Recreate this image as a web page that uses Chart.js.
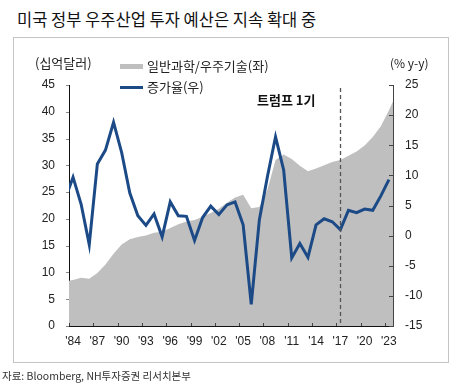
<!DOCTYPE html>
<html>
<head>
<meta charset="utf-8">
<script src="https://cdn.jsdelivr.net/npm/chart.js@4"></script>
<style>
  body { margin: 0; width: 457px; height: 391px; background: #fff; position: relative; overflow: hidden;
         font-family: 'Noto Sans CJK KR', 'Noto Sans', sans-serif; color: #111; }
  .t { position: absolute; white-space: nowrap; line-height: 1; }
  #frame { position: absolute; left: 13px; top: 37px; width: 434px; height: 324px; border: 1px solid #c4c4c4; }
  #chartBox { position: absolute; left: 0; top: 0; width: 457px; height: 391px; }
  .swatch { position: absolute; }
</style>
</head>
<body>
<div class="t" style="left:17px; top:11px; font-size:16.5px;">미국 정부 우주산업 투자 예산은 지속 확대 중</div>
<div id="frame"></div>
<div id="chartBox"><canvas id="spaceChart" width="457" height="391"></canvas></div>

<div class="t" style="left:35px; top:56px; font-size:13px; color:#222;">(십억달러)</div>
<div class="swatch" style="left:120px; top:64px; width:23px; height:5px; background:#bfbfbf;"></div>
<div class="t" style="left:147px; top:59px; font-size:13px; color:#222;">일반과학/우주기술(좌)</div>
<div class="swatch" style="left:120px; top:86px; width:23px; height:3px; background:#1b4a87;"></div>
<div class="t" style="left:147px; top:80px; font-size:13px; color:#222;">증가율(우)</div>
<div class="t" style="left:390px; top:57px; font-size:12px; color:#222;">(% y-y)</div>
<div class="t" style="left:257px; top:93px; font-size:13px; font-weight:bold; color:#111;">트럼프 1기</div>
<div class="t" style="left:2px; top:371px; font-size:10.5px; color:#333;">자료: Bloomberg, NH투자증권 리서치본부</div>

<script>
// jaren (1983 en 2024 vallen net buiten de as, alleen voor de randen)
const years = [1983, 1984, 1985, 1986, 1987, 1988, 1989, 1990, 1991, 1992, 1993, 1994, 1995, 1996,
  1997, 1998, 1999, 2000, 2001, 2002, 2003, 2004, 2005, 2006, 2007, 2008, 2009, 2010, 2011,
  2012, 2013, 2014, 2015, 2016, 2017, 2018, 2019, 2020, 2021, 2022, 2023, 2024];

// 일반과학/우주기술 (십억달러, linker as)
const budget = [8.3, 8.6, 9.0, 8.8, 9.9, 11.5, 13.5, 15.2, 16.2, 16.6, 16.9, 17.4, 17.6, 18.3,
  19.0, 19.5, 19.8, 20.4, 21.1, 21.9, 23.0, 24.0, 24.5, 22.0, 22.2, 25.5, 31.0, 32.0, 31.2,
  29.9, 28.9, 29.4, 30.0, 30.6, 31.0, 31.8, 32.6, 33.7, 35.3, 37.3, 40.3, 43.5];

// 증가율 (% y-y, rechter as)
const growth = [6.0, 9.7, 5.2, -1.5, 11.9, 14.2, 18.8, 13.8, 7.1, 3.3, 1.7, 3.6, -0.2, 5.6,
  3.3, 3.2, -0.8, 3.0, 4.9, 3.5, 5.1, 5.6, 1.8, -11.4, 2.6, 9.8, 16.4, 10.9, -3.7,
  -1.3, -3.6, 1.8, 2.8, 2.3, 1.0, 4.2, 3.8, 4.4, 4.2, 6.6, 9.3, null];

const tickYears = [1984, 1987, 1990, 1993, 1996, 1999, 2002, 2005, 2008, 2011, 2014, 2017, 2020, 2023];
const tickLabels = ["'84", "'87", "'90", "'93", "'96", "'99", "'02", "'05", "'08", "'11", "'14", "'17", "'20", "'23"];
const trumpStart = 2017;

const tickFont = { family: "'Liberation Sans', Arial, sans-serif", size: 12 };

// tickmarks + stippellijn zelf tekenen
const axisMarks = {
  id: 'axisMarks',
  afterDatasetsDraw(chart) {
    const { ctx, chartArea: a, scales } = chart;
    ctx.save();
    ctx.strokeStyle = '#555';
    ctx.lineWidth = 1.3;
    ctx.setLineDash([4, 3]);
    const xd = Math.round(scales.x.getPixelForValue(trumpStart)) + 0.5;
    ctx.beginPath();
    ctx.moveTo(xd, a.top + 3);
    ctx.lineTo(xd, a.bottom);
    ctx.stroke();
    ctx.restore();
  },
  afterDraw(chart) {
    const { ctx, chartArea: a, scales } = chart;
    ctx.save();
    ctx.lineWidth = 1;
    ctx.strokeStyle = '#888';
    const seg = (x1, y1, x2, y2) => { ctx.beginPath(); ctx.moveTo(x1, y1); ctx.lineTo(x2, y2); ctx.stroke(); };
    scales.y.ticks.forEach(t => {
      const y = Math.round(scales.y.getPixelForValue(t.value)) + 0.5;
      seg(a.left - 3, y, a.left, y);
    });
    ctx.strokeStyle = '#444';
    scales.y1.ticks.forEach(t => {
      const y = Math.round(scales.y1.getPixelForValue(t.value)) + 0.5;
      seg(a.right - 4, y, a.right, y);
    });
    scales.x.ticks.forEach(t => {
      const x = Math.round(scales.x.getPixelForValue(t.value)) + 0.5;
      seg(x, a.bottom, x, a.bottom - 3);
    });
    ctx.restore();
  }
};

const ctx = document.getElementById('spaceChart').getContext('2d');
new Chart(ctx, {
  type: 'line',
  data: {
    datasets: [
      {
        label: '증가율(우)',
        data: years.map((yr, i) => ({ x: yr, y: growth[i] })),
        yAxisID: 'y1',
        borderColor: '#1b4a87',
        borderWidth: 3,
        pointRadius: 0,
        tension: 0,
        fill: false,
        order: 0,
        clip: 0,
      },
      {
        label: '일반과학/우주기술(좌)',
        data: years.map((yr, i) => ({ x: yr, y: budget[i] })),
        yAxisID: 'y',
        borderWidth: 0,
        backgroundColor: '#bfbfbf',
        pointRadius: 0,
        tension: 0,
        fill: 'origin',
        order: 1,
        clip: 0,
      },
    ],
  },
  options: {
    responsive: false,
    animation: false,
    layout: { padding: { left: 13, right: 8, top: 85, bottom: 35 } },
    plugins: { legend: { display: false }, tooltip: { enabled: false } },
    scales: {
      x: {
        type: 'linear',
        min: 1983.5,
        max: 2023.5,
        afterBuildTicks: s => { s.ticks = tickYears.map(v => ({ value: v - 0.5 })); },
        afterFit: s => { s.height = 30; },
        grid: { display: false, drawTicks: false },
        border: { display: true, color: '#111', width: 1 },
        ticks: {
          autoSkip: false, maxRotation: 0, padding: 8, labelOffset: 4,
          font: tickFont, color: '#222',
          callback: (v, i) => tickLabels[i],
        },
      },
      y: {
        position: 'left',
        min: 0, max: 45,
        afterFit: s => { s.width = 56; },
        grid: { display: false, drawTicks: false },
        border: { display: true, color: '#111', width: 1 },
        ticks: { stepSize: 5, padding: 14, font: tickFont, color: '#222' },
      },
      y1: {
        position: 'right',
        min: -15, max: 25,
        afterFit: s => { s.width = 56; },
        grid: { display: false, drawTicks: false },
        border: { display: true, color: '#444', width: 1 },
        ticks: { stepSize: 5, padding: 12, font: tickFont, color: '#222' },
      },
    },
  },
  plugins: [axisMarks],
});
</script>
</body>
</html>
